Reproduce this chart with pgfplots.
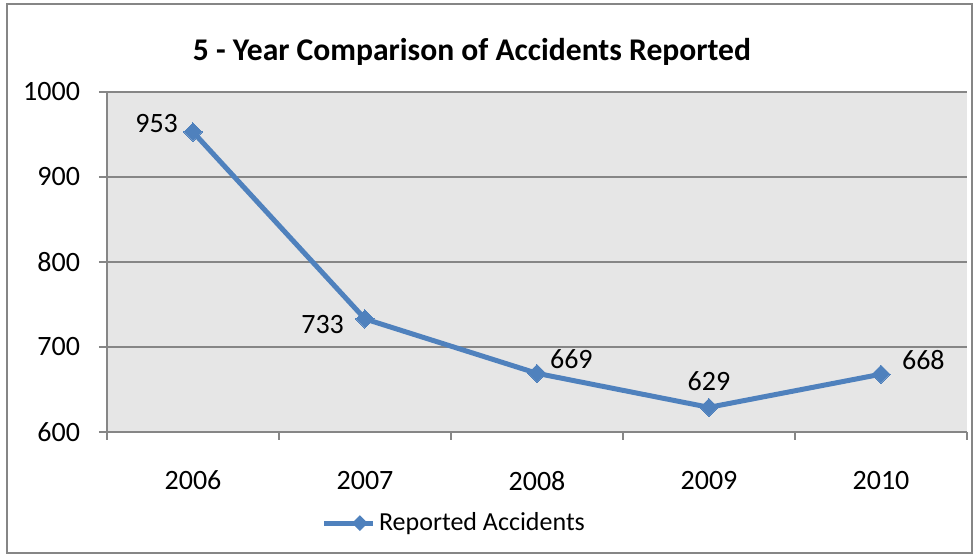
\documentclass[border=0pt]{standalone}
\usepackage{pgfplots}
\pgfplotsset{compat=1.18}
\usetikzlibrary{shapes.geometric}
\usepackage{fontspec}
\setmainfont{Carlito}
\definecolor{serblue}{HTML}{4F81BD}
\definecolor{axgray}{HTML}{868686}
\definecolor{bggray}{HTML}{E6E6E6}
\begin{document}
\begin{tikzpicture}[font=\fontsize{14pt}{17pt}\selectfont]
\path (-53.5pt,-62pt) rectangle (434pt,216pt);
\draw[color=axgray, line width=0.6pt] (-50pt,-60.5pt) rectangle (432.5pt,214pt);
\begin{axis}[
  scale only axis,
  clip=false,
  width=430pt, height=170pt,
  xmin=-0.5, xmax=4.5,
  ymin=600, ymax=1000,
  ytick={600,700,800,900,1000},
  xtick={0,1,2,3,4},
  xticklabels={2006,2007,2008,2009,2010},
  minor xtick={-0.5,0.5,1.5,2.5,3.5,4.5},
  axis background/.style={fill=bggray},
  axis x line*=bottom,
  axis y line*=left,
  axis line style={color=axgray, line width=1pt},
  ymajorgrids,
  grid style={color=axgray, line width=0.6pt},
  tick align=outside,
  major tick length=4pt,
  minor tick length=4pt,
  xtick style={draw=none},
  minor x tick style={draw=axgray, line width=0.8pt},
  ytick style={color=axgray, line width=0.8pt},
  xticklabel style={yshift=-12pt},
  yticklabel style={xshift=-6pt},
  /pgf/number format/assume math mode=true,
  /pgf/number format/1000 sep={},
  legend style={at={(0.405,-0.268)}, anchor=center, draw=none, fill=none, font=\fontsize{13pt}{15pt}\selectfont, legend cell align=left},
  legend image code/.code={
    \draw[serblue, line width=2.5pt] (0cm,0cm) -- (0.85cm,0cm);
    \node[diamond, fill=serblue, inner sep=0pt, minimum size=9pt] at (0.425cm,0cm) {};
  },
]
\addplot[color=serblue, line width=2.5pt, mark=square*, mark size=3.2pt, mark options={rotate=45, fill=serblue, draw=serblue, line width=0pt}]
  coordinates {(0,953) (1,733) (2,669) (3,629) (4,668)};
\addlegendentry{Reported Accidents}
\node[anchor=east] at (axis cs:0,953) [xshift=-4pt, yshift=4pt] {953};
\node[anchor=east] at (axis cs:1,733) [xshift=-7pt, yshift=-3pt] {733};
\node[anchor=west] at (axis cs:2,669) [xshift=3pt, yshift=7pt] {669};
\node[anchor=south] at (axis cs:3,629) [yshift=5pt] {629};
\node[anchor=west] at (axis cs:4,668) [xshift=7pt, yshift=7pt] {668};
\node[font=\bfseries\fontsize{15.8pt}{18pt}\selectfont] at (rel axis cs:0.4244,1.117) {5 - Year Comparison of Accidents Reported};
\end{axis}
\end{tikzpicture}
\end{document}
